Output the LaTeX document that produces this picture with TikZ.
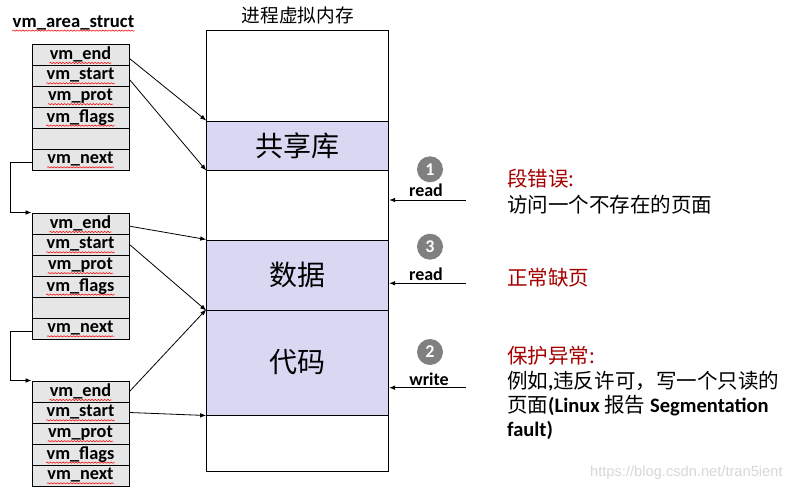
\documentclass[tikz,border=0pt]{standalone}
\usepackage{fontspec}
\setmainfont{Carlito}
\newfontfamily\cjkfont{Noto Sans CJK SC}
\newfontfamily\wmfont{Liberation Sans}
\usetikzlibrary{arrows.meta,decorations.pathmorphing}
\definecolor{fieldgray}{RGB}{230,230,230}
\definecolor{seglav}{RGB}{216,216,242}
\definecolor{errred}{RGB}{165,0,0}
\definecolor{badgegray}{RGB}{128,128,128}
\definecolor{wmgray}{RGB}{215,215,215}
\newcommand\zh[1]{{\cjkfont\mdseries #1}}
\tikzset{
  field/.style={draw,fill=fieldgray,line width=0.75pt,minimum width=72.75pt,minimum height=15.75pt,inner sep=0pt},
  fieldtext/.style={inner sep=0pt,font=\bfseries\fontsize{13.7}{14}\selectfont},
  spell/.style={draw=red,line width=0.4pt,decorate,decoration={snake,amplitude=0.45pt,segment length=2.4pt}},
  seg/.style={draw,fill=seglav,line width=0.75pt,minimum width=136.5pt,inner sep=0pt,font=\cjkfont\fontsize{21}{22}\selectfont},
  badge/.style={circle,fill=badgegray,text=white,minimum size=19.5pt,inner sep=0pt,font=\bfseries\fontsize{13.5}{14}\selectfont},
  op/.style={inner sep=0pt,font=\bfseries\fontsize{13.5}{14}\selectfont},
  note/.style={anchor=base west,inner sep=0pt,font=\bfseries\fontsize{15.4}{16}\selectfont},
}
\begin{document}
\begin{tikzpicture}[x=0.75pt,y=-0.75pt,>={Latex[length=4.5pt,width=3.5pt]},line width=0.6pt]
  \useasboundingbox (0,0) rectangle (793,489);
  \node[fieldtext,anchor=base,font=\bfseries\fontsize{14}{15}\selectfont] (vmtitle) at (73.5,27.3) {vm\_area\_struct};
  \draw[spell] ([yshift=-2.5pt]vmtitle.base west) -- ([yshift=-2.5pt]vmtitle.base east);
  \foreach \s/\top/\n in {1/44/6,2/213/6,3/381/5}
    \foreach \i in {1,...,\n}
      \node[field] (s\s-\i) at (80.5,{\top+21*\i-10.5}) {};
  \foreach \s in {1,2}
    \foreach \i/\t in {1/end,2/start,3/prot,4/flags,6/next} {
      \node[fieldtext] (l\s-\i) at (s\s-\i) {vm\_\t};
      \draw[spell] ([yshift=-2.5pt]l\s-\i.base west) -- ([yshift=-2.5pt]l\s-\i.base east);
    }
  \foreach \i/\t in {1/end,2/start,3/prot,4/flags,5/next} {
    \node[fieldtext] (l3-\i) at (s3-\i) {vm\_\t};
    \draw[spell] ([yshift=-2.5pt]l3-\i.base west) -- ([yshift=-2.5pt]l3-\i.base east);
  }
  \draw[->] ([yshift=-2pt]s1-6.west) -- ++(-21,0) |- (s2-1.north west);
  \draw[->] ([yshift=-2pt]s2-6.west) -- ++(-21,0) |- (s3-1.north west);

  \node[font=\cjkfont\fontsize{14}{16}\selectfont,inner sep=0pt] (memtitle) at (297.7,15) {进程虚拟内存};
  \node[draw,line width=0.75pt,minimum width=136.5pt,minimum height=330.75pt,inner sep=0pt] (mem) at (297.7,250.5) {};
  \node[seg,minimum height=36.75pt] (shlib) at (297.7,145.5) {共享库};
  \node[seg,minimum height=52.5pt] (data) at (297.7,275) {数据};
  \node[seg,minimum height=78.75pt] (code) at (297.7,362.5) {代码};

  \draw[->] ([yshift=-3pt]s1-1.east) -- (shlib.north west);
  \draw[->] ([yshift=-3pt]s1-2.east) -- (shlib.south west);
  \draw[->] ([yshift=-2pt]s2-1.east) -- (data.north west);
  \draw[->] (s2-2.east) -- (data.south west);
  \draw[->] (s3-1.east) -- (code.north west);
  \draw[->] (s3-2.east) -- (code.south west);

  \node[badge] (b1) at (430,169.3) {1};
  \node[badge] (b3) at (430,246.7) {3};
  \node[badge] (b2) at (430,352) {2};
  \node[op] (r1) at (426,190) {read};
  \node[op] (r3) at (426,274) {read};
  \node[op] (w2) at (429,379) {write};
  \coordinate (in1) at (466,200);
  \coordinate (in3) at (466,283.3);
  \coordinate (in2) at (466,387.7);
  \draw[->] (in1) -- (in1 -| mem.east);
  \draw[->] (in3) -- (in3 -| mem.east);
  \draw[->] (in2) -- (in2 -| mem.east);

  \node[note,text=errred] (t1) at (506.7,186.7) {\zh{段错误:}};
  \node[note] (t2) at (506.7,212.7) {\zh{访问一个不存在的页面}};
  \node[note,text=errred] (t3) at (506.7,285) {\zh{正常缺页}};
  \node[note,text=errred] (t4) at (506.7,363) {\zh{保护异常:}};
  \node[note] (t5) at (506.7,388) {\zh{例如},\zh{违反许可，写一个只读的}};
  \node[note] (t6) at (506.7,412.7) {\zh{页面}(Linux \zh{报告} Segmentation};
  \node[note] (t7) at (506.7,436) {fault)};

  \node[anchor=base east,inner sep=0pt,text=wmgray,font=\wmfont\fontsize{11}{12}\selectfont] (wm) at (783,476.7) {https://blog.csdn.net/tran5ient};
\end{tikzpicture}
\end{document}
